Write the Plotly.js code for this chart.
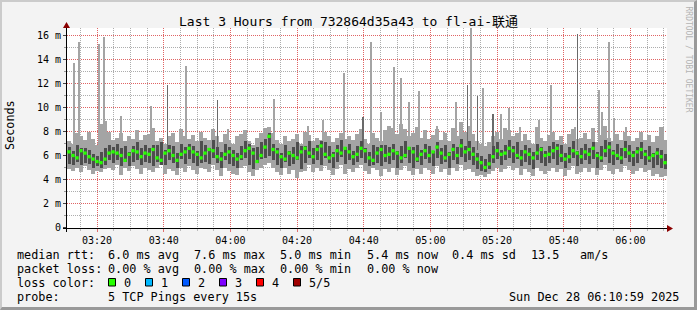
<!DOCTYPE html>
<html><head><meta charset="utf-8">
<script src="https://cdn.plot.ly/plotly-3.0.1.min.js"></script>
<style>
html,body{margin:0;padding:0;background:#f3f3f3;}
#wrap{position:relative;width:697px;height:310px;overflow:hidden;}
#chart{width:697px;height:310px;}
#frame{position:absolute;left:0;top:0;width:697px;height:310px;box-sizing:border-box;border-style:solid;border-width:2px 3px 3px 2px;border-color:#cbcbcb #999 #999 #cbcbcb;pointer-events:none;}
</style></head><body>
<div id="wrap"><div id="chart"></div><div id="frame"></div></div>
<script>
// ---------------- data ----------------
const DAY = '2025-12-28';
const START = '03:10:59';
const END = '06:10:59';
const COL_STEP_S = 72;   // one smoke column every 72 s

// median rtt per column (ms)
const rttMedian = [
6.3,6.0,5.8,6.4,6.2,5.9,5.7,5.5,5.4,5.7,
6.2,6.3,6.2,6.0,5.6,6.1,6.4,6.3,5.9,6.2,
6.1,6.5,5.8,5.6,6.2,6.4,6.0,5.6,6.1,6.3,
6.6,6.3,6.1,5.8,6.2,6.5,6.4,5.9,5.7,6.1,
6.3,6.0,5.7,5.9,6.4,6.6,6.2,5.5,6.0,6.7,
7.6,6.5,6.3,5.9,5.7,6.2,6.0,5.8,6.3,6.6,
6.2,5.9,6.5,6.8,6.1,5.8,6.0,6.4,6.2,6.6,
6.3,5.9,6.1,6.6,6.4,5.8,5.6,6.2,6.5,6.0,
6.1,6.4,6.2,5.8,6.0,6.6,6.3,5.7,6.1,6.4,
6.0,6.3,6.7,6.2,5.8,6.1,6.5,6.0,6.8,6.3,
6.5,6.1,5.7,5.4,5.0,5.3,5.9,6.4,6.1,6.2,
6.6,6.4,6.0,5.8,6.3,6.1,5.8,6.2,6.5,6.0,
6.1,6.4,6.6,6.0,5.7,5.9,6.4,6.2,5.9,6.3,
6.1,6.6,6.0,5.8,6.4,6.7,6.2,6.0,5.8,6.5,
6.2,6.0,6.3,6.5,6.1,5.8,6.0,6.2,5.9,5.4];
// fastest ping per column
const rttMin = [
4.9,4.7,5.0,4.6,5.1,4.8,4.5,4.7,4.6,4.9,
5.0,4.8,5.2,4.4,5.0,4.7,5.1,4.9,4.5,5.0,
4.8,4.6,5.0,5.2,4.5,4.9,4.7,4.4,5.0,4.6,
5.1,4.8,4.5,5.0,4.9,4.6,5.2,4.8,4.3,5.0,
4.7,4.5,4.4,5.0,5.1,4.6,4.3,4.8,5.0,5.2,
5.4,5.0,4.6,4.4,5.0,4.5,4.8,4.1,4.6,4.7,
5.2,4.6,5.0,4.7,5.1,4.8,4.4,4.9,5.2,4.5,
4.9,4.6,5.0,5.2,4.7,4.5,5.0,4.8,4.3,4.9,
4.6,5.0,4.4,4.8,5.1,4.7,4.4,4.9,4.5,5.0,
4.8,4.5,5.1,4.6,4.9,4.4,5.0,4.7,5.2,4.8,
4.9,4.6,4.3,4.4,4.2,4.5,4.7,5.0,4.6,4.9,
5.1,4.8,5.0,4.4,4.9,4.6,4.3,5.0,4.7,4.5,
4.7,5.0,4.6,4.9,4.3,4.8,5.1,4.5,4.6,5.0,
4.6,5.0,4.4,4.8,5.2,4.7,4.5,4.9,4.6,5.1,
4.8,4.5,4.7,5.0,4.6,4.8,4.3,4.5,4.2,4.3];
// second ping (bottom of dark smoke)
const rttLo = [
5.3,5.2,5.5,5.2,5.4,5.3,5.0,5.1,5.0,5.2,
5.6,5.4,5.6,5.1,5.5,5.1,5.5,5.6,5.2,5.5,
5.4,5.1,5.5,5.2,5.2,5.6,5.4,5.0,5.7,5.3,
5.7,5.4,5.1,5.4,5.5,5.3,5.8,5.4,5.0,5.6,
5.3,5.1,5.0,5.6,5.8,5.2,4.9,5.4,5.7,5.8,
6.0,5.6,5.2,5.0,5.5,5.1,5.3,5.6,4.9,5.4,
5.8,5.3,5.6,5.2,5.8,5.4,5.0,5.5,5.9,5.3,
5.6,5.2,5.5,5.8,5.4,5.1,5.2,5.4,5.1,5.5,
5.3,5.6,5.0,5.4,5.8,5.4,5.0,5.5,5.2,5.7,
5.4,5.1,5.8,5.3,5.5,5.0,5.6,5.3,5.9,5.5,
5.6,5.2,4.9,4.7,4.6,4.9,5.4,5.7,5.2,5.6,
5.8,5.4,5.7,5.1,5.5,5.2,4.9,5.6,5.4,5.1,
5.4,5.7,5.2,5.5,5.0,5.4,5.8,5.1,5.3,5.6,
5.3,5.7,5.0,5.5,5.9,5.4,5.2,5.6,5.3,5.8,
5.5,5.1,5.4,5.7,5.2,5.5,5.0,5.2,5.0,4.9];
// fourth ping (top of dark smoke)
const rttHi = [
6.7,6.4,6.9,6.6,6.6,6.5,6.1,6.0,6.3,6.6,
6.9,6.7,7.0,6.6,6.8,6.3,6.8,7.1,6.6,6.9,
6.6,6.9,6.9,7.1,6.5,6.9,6.8,6.2,7.0,6.7,
7.0,6.8,6.4,7.2,6.9,6.6,7.3,6.7,6.3,7.0,
6.7,6.5,6.2,6.8,7.2,7.0,6.6,6.7,7.1,7.4,
7.9,7.0,6.6,6.2,6.9,6.4,6.7,7.1,6.8,6.8,
7.2,6.6,6.9,7.2,7.1,6.8,6.3,6.9,7.3,6.7,
7.0,6.4,6.8,7.2,6.6,6.3,6.9,6.7,6.9,6.9,
6.7,7.0,6.4,6.8,7.2,6.7,6.7,6.9,6.5,7.0,
6.8,6.4,7.1,6.6,6.9,6.3,7.0,6.7,7.4,6.8,
7.2,6.7,6.2,6.0,5.7,6.1,6.8,7.1,6.5,6.9,
7.3,6.8,7.1,6.5,6.9,6.6,6.3,7.0,6.7,6.4,
6.8,7.1,7.0,6.9,6.2,6.7,7.2,6.4,6.6,7.0,
6.6,7.1,6.3,6.8,7.3,7.1,6.5,7.0,6.6,7.2,
6.9,6.4,6.7,7.1,6.5,6.8,6.2,6.6,6.5,6.1];
// slowest ping per column
const rttMax = [
7.2,7.0,7.9,7.6,7.3,8.0,7.4,6.9,8.6,8.9,
8.0,7.3,7.5,7.9,7.2,7.6,7.4,8.1,7.3,7.7,
7.8,8.3,7.2,7.5,7.0,7.6,7.9,7.1,8.2,7.6,
7.4,7.7,7.2,8.0,7.5,7.3,8.2,7.6,7.1,7.8,
7.3,7.0,7.6,7.8,8.1,7.2,6.9,7.5,7.9,8.3,
8.4,7.9,7.3,7.0,7.6,7.2,7.4,7.8,7.0,8.0,
7.7,7.2,7.5,7.3,8.0,7.6,7.1,7.5,7.9,7.4,
7.6,7.3,7.8,8.2,7.4,7.0,7.9,7.5,7.2,8.1,
8.5,8.3,7.8,8.6,8.2,7.6,7.9,8.4,7.5,8.1,
7.4,7.7,8.2,7.3,7.9,7.2,8.3,7.6,8.8,8.0,
8.5,7.8,7.2,7.0,6.8,7.1,7.6,8.0,7.4,8.3,
8.1,7.6,7.9,7.2,7.8,7.3,7.0,8.4,7.5,7.2,
7.7,8.0,7.3,7.6,7.0,7.8,8.2,7.4,7.5,7.9,
7.4,8.3,7.1,7.7,8.5,7.5,7.2,7.8,7.3,8.0,
7.6,7.2,7.5,8.0,7.3,7.7,7.1,7.6,8.4,7.3];

// isolated slow pings (time, ms)
const spikeTimes = ['03:13:01','03:14:40','03:20:40','03:22:05','03:27:11','03:36:11','03:46:41',
 '03:59:17','04:11:46','04:13:10','04:23:17','04:27:47','04:34:10','04:42:16','04:45:11','04:49:05',
 '04:51:11','04:53:35','04:56:35','05:02:04','05:03:58','05:07:41','05:12:11','05:15:40','05:21:16',
 '05:23:28','05:26:46','05:32:35','05:36:16','05:43:16','05:48:34','05:50:35','05:51:34','05:53:40',
 '05:55:05','05:58:46','06:09:52'];
const spikeValues = [13.7,15.5,15.3,15.9,9.3,10.1,13.5,
 8.2,8.2,10.7,8.5,9.0,12.9,15.5,9.6,13.4,
 12.5,10.5,11.4,8.5,8.0,10.5,16.7,11.6,9.5,
 10.0,8.4,9.0,11.9,8.4,8.3,11.5,9.6,15.5,
 9.1,8.4,8.4];
const thinSpikeTimes = ['03:41:10','03:56:10','04:39:47','05:11:04','05:14:04','05:18:47','05:44:13'];
const thinSpikeValues = [11.9,10.6,9.2,11.9,11.0,9.5,16.1];

const yTickVals = [0,2,4,6,8,10,12,14,16];
const yTickText = ['0','2 m','4 m','6 m','8 m','10 m','12 m','14 m','16 m'];

const titleText = 'Last 3 Hours from 732864d35a43 to fl-ai-联通';
const row1 = ['median rtt:','6.0 ms avg','7.6 ms max','5.0 ms min','5.4 ms now','0.4 ms sd','13.5','am/s'];
const row2 = ['packet loss:','0.00 % avg','0.00 % max','0.00 % min','0.00 % now'];
const lossLabels = ['0','1','2','3','4','5/5'];
const lossColors = ['#26ff00','#00b8ff','#0059ff','#7e00ff','#ff0000','#a00000'];
const probeText = ['probe:','5 TCP Pings every 15s'];
const stampText = 'Sun Dec 28 06:10:59 2025';

// ---------------- helpers ----------------
const MONO = "'DejaVu Sans Mono', 'Noto Sans CJK SC', monospace";
function clockToSec(c){const p=c.split(':').map(Number);return p[0]*3600+p[1]*60+(p[2]||0);}
function stamp(s){s=Math.round(s);const z=n=>String(n).padStart(2,'0');
  return DAY+' '+z(Math.floor(s/3600))+':'+z(Math.floor(s%3600/60))+':'+z(s%60);}
const t0 = clockToSec(START);
const colTimes = rttMedian.map((_,i)=>stamp(t0 + COL_STEP_S*(i+0.5)));
const spikeBase = 6.5;

const L=67, W=600, T=28, H=200;
const PX_PER_MS = 12;
const Y0_OFFSET = 0.5;
const X = px => (px-L)/W;
const Y = py => (T+H-py)/H;

const MAJOR_GRID = '#e06464', MINOR_GRID = '#adadad';

// ---------------- traces ----------------
const light = '#a4a4a4', dark = '#4e4e4e';
const traces = [
 {type:'bar', x:colTimes, base:rttMin, y:rttMax.map((v,i)=>v-rttMin[i]), width:COL_STEP_S*1000,
  marker:{color:light, line:{width:0}}, hoverinfo:'skip'},
 {type:'bar', x:spikeTimes.map(c=>stamp(clockToSec(c))), base:spikeValues.map(()=>spikeBase),
  y:spikeValues.map(v=>v-spikeBase), width:36000, marker:{color:light, line:{width:0}}, hoverinfo:'skip'},
 {type:'bar', x:thinSpikeTimes.map(c=>stamp(clockToSec(c))), base:thinSpikeValues.map(()=>spikeBase),
  y:thinSpikeValues.map(v=>v-spikeBase), width:20000, marker:{color:'#6a6a6a', line:{width:0}}, hoverinfo:'skip'},
 {type:'bar', x:colTimes, base:rttLo, y:rttHi.map((v,i)=>v-rttLo[i]), width:COL_STEP_S*750,
  marker:{color:dark, line:{width:0}}, hoverinfo:'skip'},
 {type:'scatter', mode:'markers', x:colTimes, y:rttMedian,
  marker:{symbol:'square', size:3.3, color:lossColors[0], line:{width:0}}, hoverinfo:'skip'}
];

// ---------------- annotations ----------------
const ann = [];
function txt(px, py, text, opts){
  ann.push(Object.assign({xref:'paper', yref:'paper', x:X(px), y:Y(py), text:text, showarrow:false,
    xanchor:'left', yanchor:'middle', borderpad:0, font:{family:MONO, size:11.8, color:'#000'}}, opts||{}));
}
txt(348.5, 22, titleText, {xanchor:'center', font:{family:MONO, size:13, color:'#000'}});
txt(10, 125, 'Seconds', {xanchor:'center', textangle:-90});
txt(688.5, 59, 'RRDTOOL / TOBI OETIKER', {xanchor:'center', textangle:90, font:{family:MONO, size:8, color:'#b4b4b4'}});
const r1x = [16,107.3,193.3,279.3,366,451.7,530,579.3];
row1.forEach((s,i)=>txt(r1x[i]-0.5, 255, s));
const r2x = [16,107.3,193.3,279.3,366];
row2.forEach((s,i)=>txt(r2x[i]-0.5, 269, s));
txt(15.5, 283, 'loss color:');
const shapes = [];
lossLabels.forEach((s,i)=>{
  const bx = 108.5 + 37*i;
  shapes.push({type:'rect', xref:'paper', yref:'paper', x0:X(bx), x1:X(bx+7), y0:Y(286), y1:Y(278.5),
    fillcolor:lossColors[i], line:{color:'#000', width:1}});
  txt(bx+14.5, 283, s);
});
txt(15.5, 297, probeText[0]);
txt(106.8, 297, probeText[1]);
txt(680, 297, stampText, {xanchor:'right'});

// axis lines + arrows
shapes.push({type:'line', xref:'paper', yref:'paper', x0:X(63), x1:X(668), y0:Y(228.5), y1:Y(228.5), line:{color:'#000', width:1}});
shapes.push({type:'line', xref:'paper', yref:'paper', x0:X(66.5), x1:X(66.5), y0:Y(232), y1:Y(25), line:{color:'#000', width:1}});
shapes.push({type:'path', xref:'paper', yref:'paper',
  path:`M${X(667)},${Y(225)} L${X(673)},${Y(228.5)} L${X(667)},${Y(232)} Z`, fillcolor:'#8b0000', line:{color:'#8b0000', width:0}});
shapes.push({type:'path', xref:'paper', yref:'paper',
  path:`M${X(63)},${Y(28)} L${X(66.5)},${Y(22)} L${X(70)},${Y(28)} Z`, fillcolor:'#8b0000', line:{color:'#8b0000', width:0}});

const layout = {
  width:697, height:310, margin:{l:L, r:697-L-W, t:T, b:310-T-H, pad:0},
  paper_bgcolor:'#f3f3f3', plot_bgcolor:'#ffffff', showlegend:false,
  barmode:'overlay', bargap:0,
  xaxis:{type:'date', range:[stamp(t0), stamp(clockToSec(END))],
    tickmode:'linear', tick0:DAY+' 03:20:00', dtick:1200000, tickformat:'%H:%M',
    showgrid:true, gridcolor:MAJOR_GRID, griddash:'1px,1px', gridwidth:1,
    ticks:'outside', ticklen:3, tickcolor:'#e07070', tickwidth:1,
    tickfont:{family:MONO, size:10, color:'#000'},
    showline:false, zeroline:false, fixedrange:true,
    minor:{tickmode:'linear', tick0:DAY+' 03:20:00', dtick:300000, showgrid:true, gridcolor:MINOR_GRID,
      griddash:'1px,1px', ticks:'outside', ticklen:2, tickcolor:'#bbbbbb'}},
  yaxis:{range:[-Y0_OFFSET/PX_PER_MS, (H-Y0_OFFSET)/PX_PER_MS], tickmode:'array', tickvals:yTickVals, ticktext:yTickText,
    showgrid:true, gridcolor:MAJOR_GRID, griddash:'1px,1px', gridwidth:1,
    ticks:'outside', ticklen:3, tickcolor:'#444', tickfont:{family:MONO, size:10, color:'#000'},
    showline:false, zeroline:false, fixedrange:true,
    minor:{tickmode:'linear', tick0:0, dtick:1, showgrid:true, gridcolor:MINOR_GRID, griddash:'1px,1px',
      ticks:'outside', ticklen:2, tickcolor:'#999'}},
  annotations:ann, shapes:shapes
};
Plotly.newPlot('chart', traces, layout, {displayModeBar:false, staticPlot:true});
</script>
</body></html>
